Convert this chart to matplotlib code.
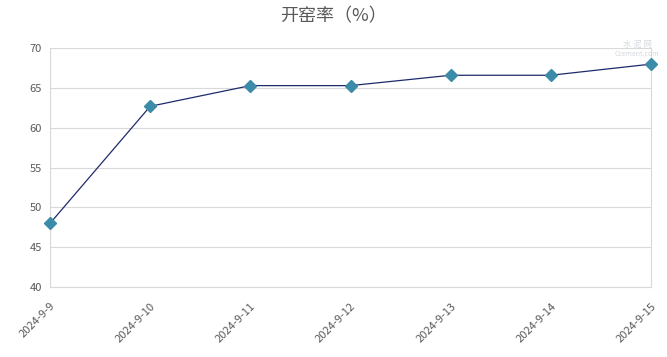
import matplotlib.pyplot as plt

plt.rcParams['font.family'] = ['Noto Sans CJK SC', 'DejaVu Sans']

# data
dates = ["2024-9-9", "2024-9-10", "2024-9-11", "2024-9-12", "2024-9-13", "2024-9-14", "2024-9-15"]
rate = [48.0, 62.7, 65.3, 65.3, 66.6, 66.6, 68.0]

fig = plt.figure(figsize=(6.67, 3.57), dpi=100)
ax = fig.add_axes([0.075, 0.196, 0.901, 0.669])

x = list(range(len(dates)))
ax.plot(x, rate, color="#1f2a6b", linewidth=0.9, zorder=3)
ax.plot(x, rate, linestyle="none", marker="D", markersize=6,
        color="#3c8ba8", markeredgecolor="#3c8ba8", zorder=4, clip_on=False)

ax.set_xlim(0, len(dates) - 1)
ax.set_ylim(40, 70)
ax.set_yticks(range(40, 71, 5))
ax.set_xticks(x)
ax.set_xticklabels(dates, rotation=45, ha="right", rotation_mode="anchor")
ax.tick_params(axis="both", length=0, labelsize=8, colors="#595959", pad=6)
ax.tick_params(axis="x", pad=10)

ax.grid(axis="y", color="#d9d9d9", linewidth=0.8)
ax.set_axisbelow(True)
for side in ["left", "bottom", "right"]:
    ax.spines[side].set_color("#d9d9d9")
    ax.spines[side].set_linewidth(0.8)
ax.spines["top"].set_visible(False)

fig.text(0.5, 0.955, "开窑率（%）", ha="center", va="center", fontsize=13, color="#595959")

# faint watermark
fig.text(0.955, 0.875, "水 泥 网", ha="center", va="center", fontsize=6, color="#c8cdd6", alpha=0.8)
fig.text(0.955, 0.848, "Ccement.com", ha="center", va="center", fontsize=5, color="#c8cdd6", alpha=0.8)

fig.savefig("out.png", dpi=100)
